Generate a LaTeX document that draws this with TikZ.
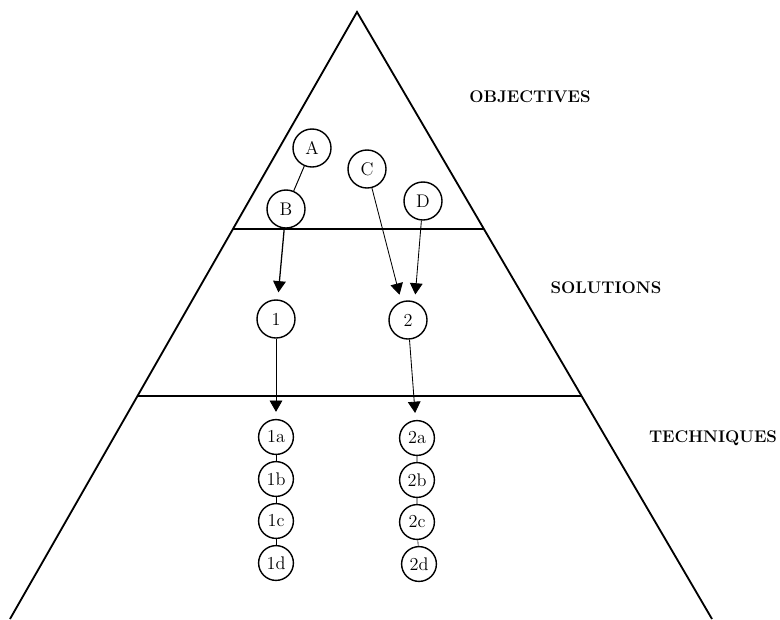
\documentclass[tikz,border=0pt]{standalone}
\usetikzlibrary{calc}
\usetikzlibrary{arrows.meta}

\tikzset{
  bub/.style={draw,circle,inner sep=0pt,minimum size=0.95cm,line width=1pt,font=\fontsize{13}{15}\selectfont},
  sbub/.style={bub,minimum size=0.87cm},
  lev/.style={font=\large\bfseries},
  arr/.style={-{Triangle[length=8pt,width=9pt]},shorten >=5pt,line width=0.6pt},
}

\begin{document}
\begin{tikzpicture}[x=0.025cm,y=-0.025cm]
\useasboundingbox (0,0) rectangle (780,619);

\coordinate (T) at (357,12);
\coordinate (L) at (10,619);
\coordinate (R) at (712,619);

\draw[black,line width=1.3pt] (L)--(T)--(R);
\draw[black,line width=1pt] ($(T)!0.3575!(L)$)--($(T)!0.3575!(R)$);
\draw[black,line width=0.9pt] ($(T)!0.6326!(L)$)--($(T)!0.6326!(R)$);

\node[lev] (obj) at (530,97) {OBJECTIVES};
\node[lev] (sol) at (606,288) {SOLUTIONS};
\node[lev] (tec) at (713,438) {TECHNIQUES};

\node[bub] (A) at (312,148) {A};
\node[bub] (B) at (286,209) {B};
\node[bub] (C) at (367,169) {C};
\node[bub] (D) at (423,201) {D};

\node[bub] (one) at (276,319) {1};
\node[bub] (two) at (408,320) {2};

\node[sbub] (t1a) at (276,437) {1a};
\node[sbub] (t1b) at (276,479) {1b};
\node[sbub] (t1c) at (276,521) {1c};
\node[sbub] (t1d) at (276,563) {1d};
\node[sbub] (t2a) at (417,438) {2a};
\node[sbub] (t2b) at (417,480) {2b};
\node[sbub] (t2c) at (417,522) {2c};
\node[sbub] (t2d) at (419,564) {2d};

\draw[line width=0.7pt] (A)--(B);
\draw[arr,line width=0.9pt] (B)--(one);
\draw[arr] (C)--(two.110);
\draw[arr] (D)--(two.70);
\draw[arr,line width=0.5pt] (one)--(t1a);
\draw[arr] (two)--(t2a);

\draw (t1a)--(t1b) (t1b)--(t1c) (t1c)--(t1d);
\draw (t2a)--(t2b) (t2b)--(t2c) (t2c)--(t2d);

\end{tikzpicture}
\end{document}
